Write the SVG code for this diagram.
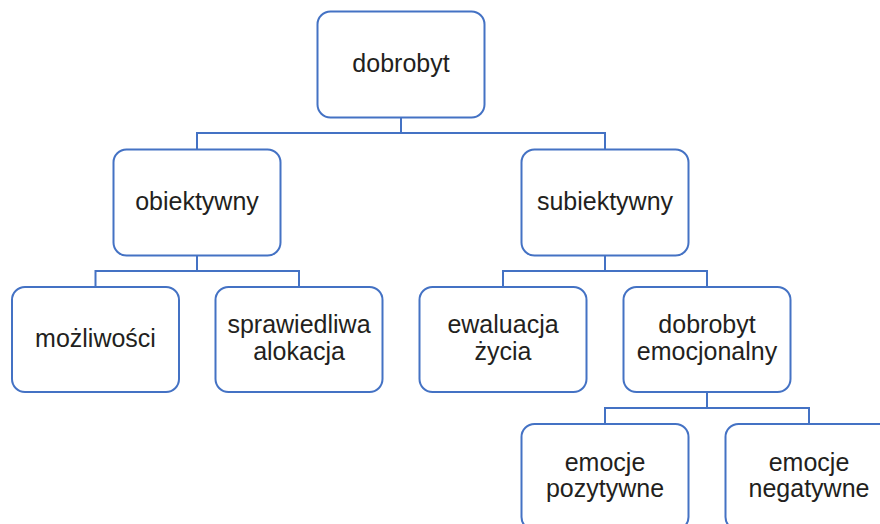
<svg xmlns="http://www.w3.org/2000/svg" width="880" height="524" viewBox="0 0 880 524">
<style>
.box{fill:#ffffff;stroke:#4472c4;stroke-width:2}
.lbl{font-family:"Liberation Sans",Arial,sans-serif;font-size:25px;fill:#231f20;text-anchor:middle}
.conn{fill:none;stroke:#4472c4;stroke-width:2}
</style>
<rect width="880" height="524" fill="#ffffff"/>
<g id="connectors">
<path class="conn" d="M401,117.5V133M197,149.5V133H605V149.5"/>
<path class="conn" d="M197,255.5V271M95.5,287V271H299V287"/>
<path class="conn" d="M605,255.5V271M503,287V271H707V287"/>
<path class="conn" d="M707,392V408M605,424V408H809V424"/>
</g>
<g id="n-dobrobyt"><rect class="box" x="317.5" y="11.5" width="167" height="106" rx="13"/><text class="lbl" x="401" y="72">dobrobyt</text></g>
<g id="n-obiektywny"><rect class="box" x="113.5" y="149.5" width="167" height="106" rx="13"/><text class="lbl" x="197" y="210">obiektywny</text></g>
<g id="n-subiektywny"><rect class="box" x="521.5" y="149.5" width="167" height="106" rx="13"/><text class="lbl" x="605" y="210">subiektywny</text></g>
<g id="n-mozliwosci"><rect class="box" x="12" y="287" width="167" height="105" rx="13"/><text class="lbl" x="95.5" y="347">możliwości</text></g>
<g id="n-sprawiedliwa"><rect class="box" x="215.5" y="287" width="167" height="105" rx="13"/><text class="lbl" x="299" y="333">sprawiedliwa</text><text class="lbl" x="299" y="359.5">alokacja</text></g>
<g id="n-ewaluacja"><rect class="box" x="419.5" y="287" width="167" height="105" rx="13"/><text class="lbl" x="503" y="333">ewaluacja</text><text class="lbl" x="503" y="359.5">życia</text></g>
<g id="n-emocjonalny"><rect class="box" x="623.5" y="287" width="167" height="105" rx="13"/><text class="lbl" x="707" y="333">dobrobyt</text><text class="lbl" x="707" y="359.5">emocjonalny</text></g>
<g id="n-pozytywne"><rect class="box" x="521.5" y="424" width="167" height="106" rx="13"/><text class="lbl" x="605" y="471">emocje</text><text class="lbl" x="605" y="497">pozytywne</text></g>
<g id="n-negatywne"><rect class="box" x="725.5" y="424" width="167" height="106" rx="13"/><text class="lbl" x="809" y="471">emocje</text><text class="lbl" x="809" y="497">negatywne</text></g>
</svg>
